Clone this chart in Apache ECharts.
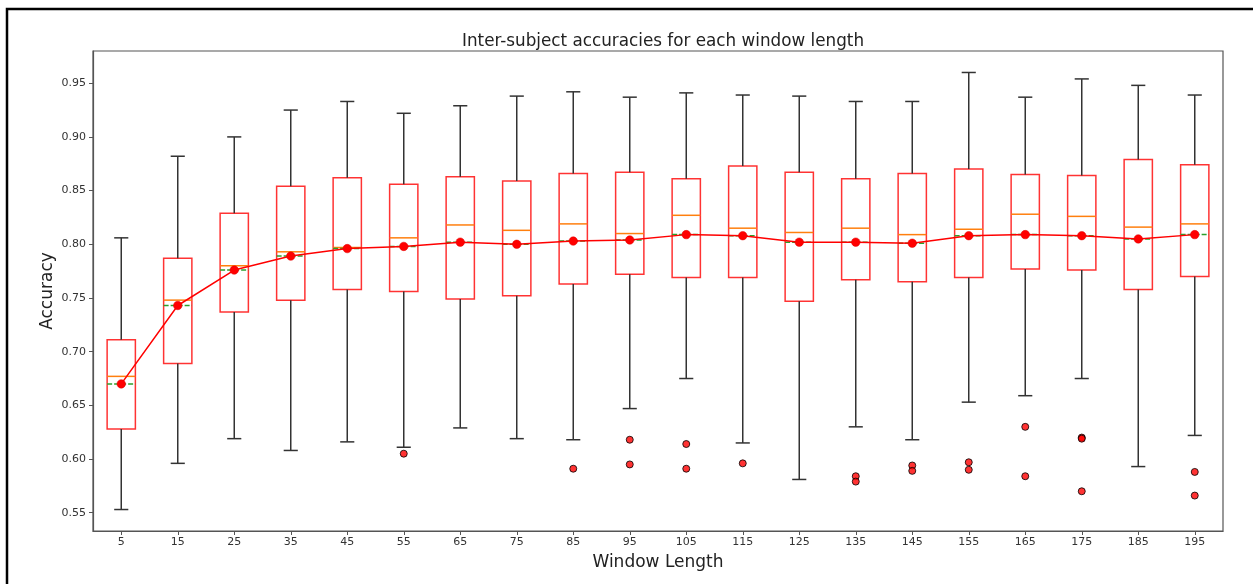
<!DOCTYPE html>
<html>
<head>
<meta charset="utf-8">
<script src="https://cdn.jsdelivr.net/npm/echarts@6/dist/echarts.min.js"></script>
<style>
html,body{margin:0;padding:0;background:#fff;}
#chart{width:1253px;height:584px;}
</style>
</head>
<body>
<div id="chart"></div>
<script>
const windowLengths = ['5','15','25','35','45','55','65','75','85','95','105','115','125','135','145','155','165','175','185','195'];
const whiskerLow  = [0.553,0.596,0.619,0.608,0.616,0.611,0.629,0.619,0.618,0.647,0.675,0.615,0.581,0.630,0.618,0.653,0.659,0.675,0.593,0.622];
const q1          = [0.628,0.689,0.737,0.748,0.758,0.756,0.749,0.752,0.763,0.772,0.769,0.769,0.747,0.767,0.765,0.769,0.777,0.776,0.758,0.770];
const median      = [0.677,0.748,0.780,0.793,0.797,0.806,0.818,0.813,0.819,0.810,0.827,0.815,0.811,0.815,0.809,0.814,0.828,0.826,0.816,0.819];
const q3          = [0.711,0.787,0.829,0.854,0.862,0.856,0.863,0.859,0.866,0.867,0.861,0.873,0.867,0.861,0.866,0.870,0.865,0.864,0.879,0.874];
const whiskerHigh = [0.806,0.882,0.900,0.925,0.933,0.922,0.929,0.938,0.942,0.937,0.941,0.939,0.938,0.933,0.933,0.960,0.937,0.954,0.948,0.939];
const meanAcc     = [0.670,0.743,0.776,0.789,0.796,0.798,0.802,0.800,0.803,0.804,0.809,0.808,0.802,0.802,0.801,0.808,0.809,0.808,0.805,0.809];
const outlierWindow = ['55','85','95','95','105','105','115','135','135','145','145','155','155','165','165','175','175','175','195','195'];
const outlierValue  = [0.605,0.591,0.618,0.595,0.614,0.591,0.596,0.584,0.579,0.594,0.589,0.597,0.590,0.630,0.584,0.620,0.619,0.570,0.588,0.566];
const yTicks = [0.55,0.60,0.65,0.70,0.75,0.80,0.85,0.90,0.95];

const boxData = windowLengths.map((w,i)=>[i, whiskerLow[i], q1[i], median[i], q3[i], whiskerHigh[i], meanAcc[i]]);
const outlierData = outlierWindow.map((w,i)=>[windowLengths.indexOf(w), outlierValue[i]]);

const chart = echarts.init(document.getElementById('chart'), null, {renderer:'canvas'});
const FONT = 'DejaVu Sans';
const option = {
  backgroundColor:'#ffffff',
  animation:false,
  title:{
    text:'Inter-subject accuracies for each window length',
    left:658, top:28, textAlign:'center',
    textStyle:{fontFamily:FONT,fontSize:16.8,fontWeight:'normal',color:'#222'}
  },
  grid:{left:93, top:51, right:30, bottom:53, show:true, borderColor:'#555', borderWidth:1.2, backgroundColor:'transparent'},
  xAxis:{
    type:'category', data:windowLengths, boundaryGap:true,
    name:'Window Length', nameLocation:'middle', nameGap:23,
    nameTextStyle:{fontFamily:FONT,fontSize:17,color:'#222'},
    axisLine:{show:true,lineStyle:{color:'#555',width:1.2}},
    axisTick:{show:true,alignWithLabel:true,length:4,lineStyle:{color:'#555'}},
    axisLabel:{fontFamily:FONT,fontSize:11,color:'#333',margin:6},
    splitLine:{show:false}
  },
  yAxis:{
    type:'value', min:0.533, max:0.98,
    name:'Accuracy', nameLocation:'middle', nameGap:37, nameRotate:90, nameMoveOverlap:false,
    nameTextStyle:{fontFamily:FONT,fontSize:17,color:'#222'},
    axisLine:{show:true,lineStyle:{color:'#555',width:1.2}},
    axisTick:{show:true,length:4,lineStyle:{color:'#555'},customValues:yTicks},
    axisLabel:{fontFamily:FONT,fontSize:11,color:'#333',margin:7,customValues:yTicks,formatter:v=>v.toFixed(2)},
    splitLine:{show:false}
  },
  graphic:[{
    type:'rect', silent:true, z:100,
    shape:{x:7, y:9, width:1400, height:800},
    style:{fill:'none', stroke:'#000', lineWidth:2.5}
  }],
  series:[
    {
      type:'custom', name:'box', data:boxData, z:2,
      encode:{x:0, y:[1,2,3,4,5,6]},
      renderItem:function(params, api){
        const x = api.value(0);
        const band = api.size([1,0])[0];
        const hb = band*0.25, hc = band*0.125;
        const pLow = api.coord([x, api.value(1)]);
        const pQ1 = api.coord([x, api.value(2)]);
        const pMed = api.coord([x, api.value(3)]);
        const pQ3 = api.coord([x, api.value(4)]);
        const pHigh = api.coord([x, api.value(5)]);
        const pMean = api.coord([x, api.value(6)]);
        const cx = pLow[0];
        const wStyle = {stroke:'#333', lineWidth:1.5};
        return {type:'group', children:[
          {type:'rect', shape:{x:cx-hb, y:pQ3[1], width:2*hb, height:pQ1[1]-pQ3[1]}, style:{fill:'none', stroke:'rgba(255,0,0,0.8)', lineWidth:1.5}},
          {type:'line', shape:{x1:cx, y1:pQ1[1], x2:cx, y2:pLow[1]}, style:wStyle},
          {type:'line', shape:{x1:cx, y1:pQ3[1], x2:cx, y2:pHigh[1]}, style:wStyle},
          {type:'line', shape:{x1:cx-hc, y1:pLow[1], x2:cx+hc, y2:pLow[1]}, style:wStyle},
          {type:'line', shape:{x1:cx-hc, y1:pHigh[1], x2:cx+hc, y2:pHigh[1]}, style:wStyle},
          {type:'line', shape:{x1:cx-hb, y1:pMed[1], x2:cx+hb, y2:pMed[1]}, style:{stroke:'#ff7f0e', lineWidth:1.5}},
          {type:'line', shape:{x1:cx-hb, y1:pMean[1], x2:cx+hb, y2:pMean[1]}, style:{stroke:'#2ca02c', lineWidth:1.5, lineDash:[5,2]}}
        ]};
      }
    },
    {
      type:'line', name:'mean', data:meanAcc, z:5,
      symbol:'circle', symbolSize:8.5, showSymbol:true,
      lineStyle:{color:'#ff0000', width:1.5},
      itemStyle:{color:'#ff0000', borderColor:'#e00000', borderWidth:0.5}
    },
    {
      type:'scatter', name:'outliers', data:outlierData, z:4,
      symbol:'circle', symbolSize:7,
      itemStyle:{color:'#ff0000', borderColor:'#000', borderWidth:1}
    }
  ]
};
chart.setOption(option);
</script>
</body>
</html>
